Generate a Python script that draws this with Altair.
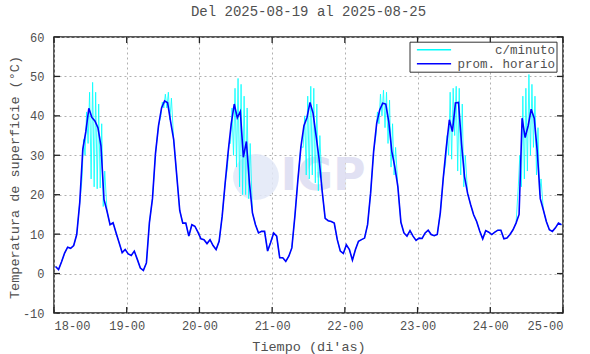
import altair as alt
import pandas as pd

# Hourly averages ("prom. horario"), one list per day (hours 00..23), °C
d18 = [1.8, 1.0, 3.0, 5.2, 6.7, 6.4, 7.1, 9.9, 18.0, 31.5, 36.0, 41.9, 39.6, 38.7, 37.0, 32.4, 18.8, 15.8, 12.4, 12.9, 10.3, 7.8, 5.3, 6.1]
d19 = [5.0, 4.6, 5.7, 3.6, 1.4, 0.8, 2.7, 13.0, 19.0, 30.5, 37.5, 42.0, 43.8, 43.3, 38.5, 34.0, 25.0, 16.0, 12.8, 12.8, 9.5, 12.4, 12.0, 10.5]
d20 = [8.8, 8.6, 7.6, 8.6, 7.1, 6.1, 8.2, 14.5, 23.0, 31.0, 38.0, 43.0, 39.5, 41.1, 29.5, 33.5, 23.0, 15.4, 12.4, 10.3, 10.7, 10.7, 5.7, 7.9]
d21 = [10.3, 9.5, 4.0, 4.0, 3.1, 4.4, 6.5, 14.5, 23.8, 32.2, 37.5, 39.6, 43.4, 40.7, 35.0, 29.0, 21.0, 14.0, 13.4, 13.2, 12.8, 8.6, 5.7, 5.1]
d22 = [7.3, 6.1, 3.4, 6.1, 8.2, 8.6, 9.0, 12.4, 20.4, 31.0, 38.1, 41.5, 43.2, 43.0, 38.5, 31.0, 27.0, 22.0, 13.0, 10.3, 9.5, 10.9, 9.5, 8.4]
d23 = [9.0, 8.9, 10.3, 11.0, 9.9, 9.6, 9.9, 15.4, 24.4, 32.2, 39.0, 36.0, 43.3, 43.4, 33.0, 24.6, 20.4, 17.5, 14.9, 13.2, 10.8, 8.8, 10.9, 10.5]
d24 = [9.9, 10.5, 11.0, 11.0, 8.8, 9.0, 9.9, 11.1, 12.8, 15.0, 39.4, 34.5, 37.5, 41.7, 39.4, 31.0, 19.0, 16.2, 13.2, 11.1, 10.7, 11.6, 12.8, 12.4]
blue_days = [d18, d19, d20, d21, d22, d23, d24]

# Per-minute readings ("c/minuto"): spread (max / min) during the daytime hours
N = None
c18_hi = [N]*9 + [34, 41, 46, 48.5, 46, 43, 38, 26] + [N]*7
c18_lo = [N]*9 + [24, 30, 33, 24, 22, 21.5, 21.7, 17] + [N]*7
c19_hi = [N]*11 + [43.5, 45.5, 46, 44.5] + [N]*9
c19_lo = [N]*11 + [40, 42, 42, 39] + [N]*9
c20_hi = [N]*9 + [33, 42, 47, 49.5, 48, 45, 42, 33] + [N]*7
c20_lo = [N]*9 + [27, 33, 30, 27, 22, 20, 20, 19] + [N]*7
c21_hi = [N]*10 + [40, 45, 47.5, 47, 43, 35] + [N]*8
c21_lo = [N]*10 + [32, 25, 24, 25, 23, 21] + [N]*8
c22_hi = [N]*10 + [41, 45.5, 46.5, 46, 44, 38, 32] + [N]*7
c22_lo = [N]*10 + [35, 38, 40, 37, 33, 27, 25] + [N]*7
c23_hi = [N]*9 + [35, 46, 47, 47.5, 47, 43, 30] + [N]*8
c23_lo = [N]*9 + [28, 30, 29, 35, 26, 25, 22] + [N]*8
c24_hi = [N]*9 + [30, 45, 47, 50.5, 48, 45, 37, 24] + [N]*7
c24_lo = [N]*9 + [22, 22, 24, 26, 30, 32, 25, 20] + [N]*7
cyan_hi = [c18_hi, c19_hi, c20_hi, c21_hi, c22_hi, c23_hi, c24_hi]
cyan_lo = [c18_lo, c19_lo, c20_lo, c21_lo, c22_lo, c23_lo, c24_lo]

x_ticks = [0, 24, 48, 72, 96, 120, 144, 168]   # hours since 18-00
y_ticks = [-10, 0, 10, 20, 30, 40, 50, 60]
series = ["c/minuto", "prom. horario"]
series_colors = ["#00ffff", "#0000ff"]

# ---- build tables ----
blue_rows = []
cyan_rows = []
for d in range(7):
    for h in range(24):
        k = d * 24 + h
        v = blue_days[d][h]
        blue_rows.append({"t": k + 0.5, "temp": v, "serie": series[1]})
        hi = cyan_hi[d][h]
        lo = cyan_lo[d][h]
        if hi is None:
            cyan_rows.append({"t": k + 0.5, "temp": v, "serie": series[0]})
        else:
            cyan_rows.append({"t": k + 0.25, "temp": lo, "serie": series[0]})
            cyan_rows.append({"t": k + 0.75, "temp": hi, "serie": series[0]})
df_blue = pd.DataFrame(blue_rows)
df_cyan = pd.DataFrame(cyan_rows)

W, H = 509, 276
FONT = "Liberation Mono"
TXT = "#505050"
FRAME = "#222222"

xscale = alt.Scale(domain=[0, 168], nice=False, zero=False)
yscale = alt.Scale(domain=[-10, 60], nice=False, zero=False)

xaxis = alt.Axis(values=x_ticks, labelExpr="(18 + datum.value/24) + '-00'",
                 title="Tiempo (di'as)", titleX=W / 2, titleY=33,
                 titleBaseline="middle", labelPadding=7.5)
yaxis = alt.Axis(values=y_ticks, labelExpr="'' + datum.value",
                 title="Temperatura de superficie (°C)", titleX=-40, titleY=140,
                 titleAlign="center", titleBaseline="middle", titleAngle=-90,
                 labelPadding=10)

X = alt.X("t:Q", scale=xscale, axis=xaxis)
Y = alt.Y("temp:Q", scale=yscale, axis=yaxis)

cscale = alt.Scale(domain=series, range=series_colors)
legend = alt.Legend(title=None, orient="none", legendX=355.5, legendY=4.7,
                    symbolType="M-2.85,0H2.85", symbolSize=144, symbolStrokeWidth=1.5,
                    symbolOffset=16.5, labelAlign="right", labelOffset=114,
                    labelFont=FONT, labelFontSize=12.5, labelColor=TXT,
                    strokeColor="#333333", fillColor="white", padding=1,
                    rowPadding=0)

dummy = pd.DataFrame({"a": [0]})
wm_circle = alt.Chart(dummy).mark_point(filled=True, shape="circle", size=2100,
                                        color="#e2e7f7", opacity=0.85).encode(
    x=alt.value(202), y=alt.value(140))
wm_text = alt.Chart(dummy).mark_text(text="IGP", font="DejaVu Sans", fontWeight="bold",
                                     fontSize=44, color="#dedef2", opacity=0.9,
                                     align="center", baseline="middle").encode(
    x=alt.value(269), y=alt.value(140))

cyan = alt.Chart(df_cyan).mark_line(strokeWidth=0.8, clip=True).encode(
    x=X, y=Y, color=alt.Color("serie:N", scale=cscale, legend=legend))
blue = alt.Chart(df_blue).mark_line(strokeWidth=1.6, clip=True).encode(
    x=X, y=Y, color=alt.Color("serie:N", scale=cscale, legend=legend))

dfx = pd.DataFrame({"t": x_ticks})
dfy = pd.DataFrame({"temp": y_ticks})
tick_style = dict(color=FRAME, strokeWidth=1.3)
tb = alt.Chart(dfx).mark_rule(**tick_style).encode(
    x=X, y=alt.value(H), y2=alt.value(H - 6))
tt = alt.Chart(dfx).mark_rule(**tick_style).encode(
    x=X, y=alt.value(0), y2=alt.value(6))
tl = alt.Chart(dfy).mark_rule(**tick_style).encode(
    y=Y, x=alt.value(0), x2=alt.value(6))
tr = alt.Chart(dfy).mark_rule(**tick_style).encode(
    y=Y, x=alt.value(W - 6), x2=alt.value(W))

chart = alt.layer(wm_circle, wm_text, cyan, blue, tb, tt, tl, tr).properties(
    width=W, height=H,
    autosize="none",
    padding={"left": 54, "top": 37, "right": 27, "bottom": 41},
    title=alt.TitleParams("Del 2025-08-19 al 2025-08-25", font=FONT, fontSize=14,
                          fontWeight="normal", color=TXT, anchor="middle", offset=12),
    background="white",
).configure_view(
    stroke=FRAME, strokeWidth=1.5
).configure_axis(
    grid=True, gridColor="#b0b0b0", gridDash=[2, 3], gridWidth=1,
    domain=False, tickSize=0, ticks=False,
    labelFont=FONT, labelFontSize=12, labelColor=TXT,
    titleFont=FONT, titleFontSize=13.5, titleFontWeight="normal", titleColor=TXT,
)

chart.save("out.html", embed_options={"renderer": "svg", "actions": False})
